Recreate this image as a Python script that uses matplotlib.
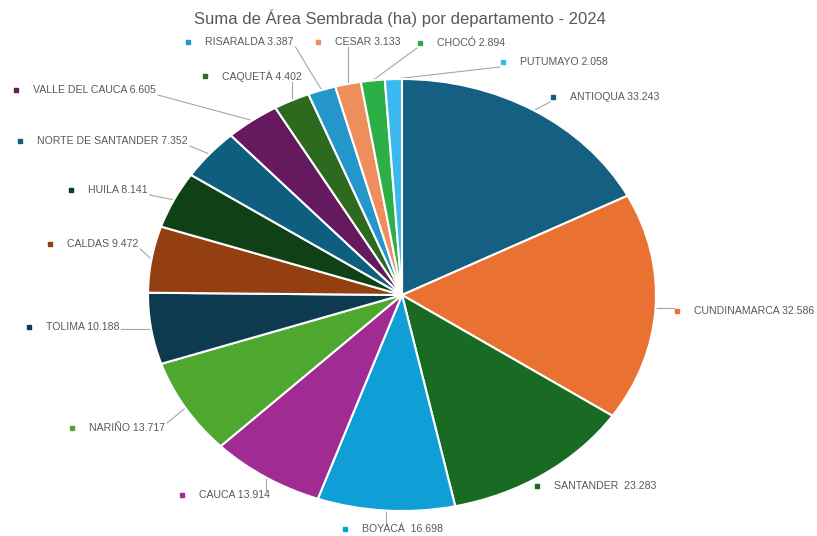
import matplotlib
matplotlib.use("Agg")
import matplotlib.pyplot as plt
import numpy as np

# datos
departamentos = ["ANTIOQUA", "CUNDINAMARCA", "SANTANDER", "BOYACÁ", "CAUCA", "NARIÑO",
                 "TOLIMA", "CALDAS", "HUILA", "NORTE DE SANTANDER", "VALLE DEL CAUCA",
                 "CAQUETÁ", "RISARALDA", "CESAR", "CHOCÓ", "PUTUMAYO"]
area = [33.243, 32.586, 23.283, 16.698, 13.914, 13.717, 10.188, 9.472, 8.141,
        7.352, 6.605, 4.402, 3.387, 3.133, 2.894, 2.058]
etiquetas = ["ANTIOQUA 33.243", "CUNDINAMARCA 32.586", "SANTANDER  23.283", "BOYACÁ  16.698",
             "CAUCA 13.914", "NARIÑO 13.717", "TOLIMA 10.188", "CALDAS 9.472", "HUILA 8.141",
             "NORTE DE SANTANDER 7.352", "VALLE DEL CAUCA 6.605", "CAQUETÁ 4.402",
             "RISARALDA 3.387", "CESAR 3.133", "CHOCÓ 2.894", "PUTUMAYO 2.058"]
colores = ["#156082", "#E97132", "#196B24", "#0F9ED5", "#A02B93", "#4EA72E",
           "#0E3A50", "#933F12", "#104016", "#0E5E7F", "#65195E", "#2E6A1E",
           "#2596CA", "#EE8E5D", "#2DAF47", "#3BB8EE"]

# posicion de las etiquetas (px): cuadrado x, y
pos_etq = [(553, 97), (677, 311), (537, 486), (345, 529), (182, 495), (72, 428),
           (29, 327), (50, 244), (71, 190), (20, 141), (16, 90), (205, 76),
           (188, 42), (318, 42), (420, 43), (503, 62)]

W, H = 817, 536
cx, cy, rx, ry = 402, 295, 254, 216

def px(x, y):
    return (x - cx) / rx, (cy - y) / ry

fig = plt.figure(figsize=(W / 100, H / 100), dpi=100)
ax = fig.add_axes([0, 0, 1, 1])
wedges, _ = ax.pie(area, colors=colores, startangle=90, counterclock=False,
                   wedgeprops=dict(edgecolor="white", linewidth=1.5))
ax.set_aspect("auto")
ax.set_xlim(-cx / rx, (W - cx) / rx)
ax.set_ylim((cy - H) / ry, cy / ry)
ax.axis("off")

fig.text(400 / W, 1 - 18 / H, "Suma de Área Sembrada (ha) por departamento - 2024",
         ha="center", va="center", fontsize=12, color="#595959", family="Liberation Sans")

textos = []
for lab, col, (sx, sy) in zip(etiquetas, colores, pos_etq):
    x, y = px(sx, sy)
    ax.plot(x, y, marker="s", ms=3.5, color=col, ls="none")
    tx, ty = px(sx + 17, sy)
    t = ax.text(tx, ty, lab, ha="left", va="center", fontsize=7.6, color="#595959",
                family="Liberation Sans")
    textos.append(t)

# lineas guia
fig.canvas.draw()
inv = ax.transData.inverted()
for w, t in zip(wedges, textos):
    ang = np.deg2rad((w.theta1 + w.theta2) / 2)
    ex, ey = np.cos(ang), np.sin(ang)
    bb = t.get_window_extent()
    (x0, y0), (x1, y1) = inv.transform([(bb.x0 - 20, bb.y0), (bb.x1 + 2, bb.y1)])
    nx = min(max(ex, x0), x1)
    ny = min(max(ey, y0), y1)
    if np.hypot((nx - ex) * rx, (ny - ey) * ry) > 8:
        ax.plot([ex, nx], [ey, ny], color="#A6A6A6", lw=0.8, zorder=0)

fig.savefig("out.png", dpi=100)
